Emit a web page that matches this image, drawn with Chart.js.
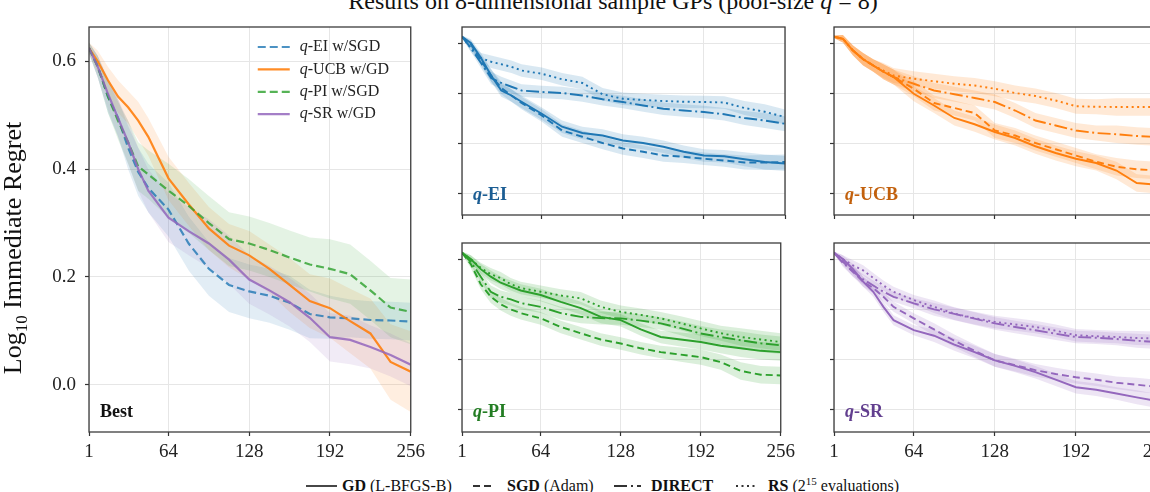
<!DOCTYPE html>
<html>
<head>
<meta charset="utf-8">
<script src="https://cdn.jsdelivr.net/npm/chart.js@4.4.0/dist/chart.umd.min.js"></script>
<style>
  html, body { margin: 0; padding: 0; width: 1150px; height: 492px; overflow: hidden; background: #fff; }
  body { position: relative; font-family: 'Liberation Serif', serif; color: #111; }
  canvas { position: absolute; }
  .t { position: absolute; white-space: nowrap; }
  .leg { position: absolute; white-space: nowrap; font-size: 16px; line-height: 16px; top: 478px; }
  .leg b { font-weight: bold; }
  .leg .sup { font-size: 11px; position: relative; top: -6px; vertical-align: baseline; }
  svg { position: absolute; }
</style>
</head>
<body>
<div class="t" style="left:613px; top:-11px; transform:translateX(-50%); font-size:24px; line-height:24px;">Results on 8-dimensional sample GPs (pool-size <i>q</i> = 8)</div>

<canvas id="best" width="430" height="470" style="left:0; top:0"></canvas>
<canvas id="ei" width="360" height="225" style="left:440px; top:0"></canvas>
<canvas id="ucb" width="370" height="225" style="left:812px; top:0"></canvas>
<canvas id="pi" width="360" height="240" style="left:440px; top:230px"></canvas>
<canvas id="sr" width="370" height="240" style="left:812px; top:230px"></canvas>

<!-- shared legend along the bottom edge -->
<svg width="31" height="10" style="left:306px; top:481px"><line x1="0" y1="5" x2="31" y2="5" stroke="#333" stroke-width="1.8"/></svg>
<span class="leg" style="left:342px"><b>GD</b> (L-BFGS-B)</span>
<svg width="22" height="10" style="left:473px; top:481px"><line x1="0" y1="5" x2="22" y2="5" stroke="#333" stroke-width="1.8" stroke-dasharray="7 4"/></svg>
<span class="leg" style="left:507px"><b>SGD</b> (Adam)</span>
<svg width="27" height="10" style="left:614px; top:481px"><line x1="0" y1="5" x2="27" y2="5" stroke="#333" stroke-width="1.8" stroke-dasharray="13 4 2 4"/></svg>
<span class="leg" style="left:651px"><b>DIRECT</b></span>
<svg width="22" height="10" style="left:736px; top:481px"><line x1="0" y1="5" x2="22" y2="5" stroke="#333" stroke-width="1.8" stroke-dasharray="2 3.5"/></svg>
<span class="leg" style="left:768px"><b>RS</b> (2<span class="sup">15</span> evaluations)</span>

<script>
Chart.defaults.font.family = "'Liberation Serif', serif";
Chart.defaults.color = "#222";

const steps = [1, 8, 16, 24, 32, 40, 48, 64, 80, 96, 112, 128, 144, 160, 176, 192, 208, 224, 240, 256];
const xTicks = [1, 64, 128, 192, 256];
const yTicks = [0.0, 0.2, 0.4, 0.6];

// "Best" panel: best optimizer per acquisition function
const bestLabels = ["q-EI w/SGD", "q-UCB w/GD", "q-PI w/SGD", "q-SR w/GD"];
const bestEI  = [0.625, 0.59, 0.535, 0.495, 0.44, 0.395, 0.365, 0.325, 0.262, 0.215, 0.185, 0.173, 0.165, 0.152, 0.131, 0.125, 0.123, 0.12, 0.119, 0.117];
const bestUCB = [0.625, 0.60, 0.565, 0.535, 0.515, 0.49, 0.46, 0.383, 0.335, 0.29, 0.258, 0.24, 0.215, 0.185, 0.155, 0.142, 0.118, 0.095, 0.042, 0.024];
const bestPI  = [0.625, 0.59, 0.535, 0.49, 0.45, 0.405, 0.39, 0.36, 0.332, 0.30, 0.27, 0.262, 0.25, 0.236, 0.223, 0.215, 0.205, 0.175, 0.143, 0.135];
const bestSR  = [0.625, 0.59, 0.54, 0.495, 0.45, 0.40, 0.36, 0.31, 0.285, 0.262, 0.232, 0.195, 0.175, 0.153, 0.124, 0.088, 0.083, 0.07, 0.055, 0.037];
// half-widths of the shaded bands
const bestEIBand  = [0.01, 0.02, 0.03, 0.035, 0.04, 0.045, 0.045, 0.05, 0.05, 0.05, 0.05, 0.05, 0.05, 0.05, 0.045, 0.04, 0.035, 0.035, 0.035, 0.035];
const bestUCBBand = [0.01, 0.02, 0.025, 0.03, 0.03, 0.035, 0.035, 0.04, 0.04, 0.04, 0.04, 0.045, 0.045, 0.05, 0.05, 0.055, 0.06, 0.065, 0.07, 0.075];
const bestPIBand  = [0.01, 0.02, 0.03, 0.035, 0.04, 0.045, 0.045, 0.05, 0.05, 0.05, 0.05, 0.05, 0.05, 0.05, 0.05, 0.055, 0.055, 0.055, 0.055, 0.06];
const bestSRBand  = [0.01, 0.02, 0.03, 0.035, 0.04, 0.04, 0.04, 0.045, 0.045, 0.045, 0.045, 0.045, 0.045, 0.045, 0.045, 0.045, 0.045, 0.04, 0.04, 0.04];

// q-EI
const eiGD     = [0.625, 0.60, 0.54, 0.47, 0.41, 0.39, 0.365, 0.317, 0.265, 0.24, 0.23, 0.21, 0.20, 0.185, 0.165, 0.15, 0.147, 0.135, 0.124, 0.118];
const eiSGD    = [0.625, 0.595, 0.53, 0.47, 0.42, 0.39, 0.36, 0.31, 0.25, 0.225, 0.20, 0.178, 0.165, 0.15, 0.145, 0.137, 0.13, 0.122, 0.122, 0.124];
const eiDIRECT = [0.625, 0.58, 0.52, 0.46, 0.44, 0.425, 0.41, 0.404, 0.40, 0.39, 0.375, 0.364, 0.35, 0.337, 0.33, 0.324, 0.315, 0.30, 0.29, 0.277];
const eiRS     = [0.625, 0.58, 0.54, 0.525, 0.515, 0.505, 0.49, 0.477, 0.455, 0.44, 0.395, 0.377, 0.372, 0.368, 0.365, 0.364, 0.362, 0.34, 0.325, 0.304];
const eiBand   = [0.005, 0.015, 0.02, 0.025, 0.025, 0.025, 0.025, 0.025, 0.025, 0.025, 0.025, 0.025, 0.025, 0.025, 0.025, 0.025, 0.025, 0.028, 0.03, 0.03];

// q-UCB
const ucbGD     = [0.625, 0.617, 0.57, 0.535, 0.51, 0.485, 0.464, 0.397, 0.35, 0.30, 0.275, 0.244, 0.22, 0.187, 0.16, 0.137, 0.12, 0.09, 0.04, 0.033];
const ucbSGD    = [0.625, 0.617, 0.57, 0.535, 0.51, 0.485, 0.464, 0.417, 0.36, 0.34, 0.32, 0.25, 0.23, 0.20, 0.175, 0.15, 0.125, 0.105, 0.095, 0.09];
const ucbDIRECT = [0.625, 0.617, 0.57, 0.535, 0.51, 0.485, 0.464, 0.437, 0.41, 0.395, 0.38, 0.364, 0.33, 0.29, 0.27, 0.25, 0.24, 0.235, 0.228, 0.224];
const ucbRS     = [0.625, 0.617, 0.57, 0.535, 0.51, 0.49, 0.47, 0.457, 0.447, 0.437, 0.43, 0.417, 0.40, 0.388, 0.37, 0.347, 0.345, 0.344, 0.344, 0.344];
const ucbBand   = [0.005, 0.015, 0.02, 0.025, 0.025, 0.03, 0.03, 0.03, 0.03, 0.03, 0.03, 0.03, 0.03, 0.03, 0.03, 0.03, 0.03, 0.035, 0.035, 0.035];

// q-PI
const piGD     = [0.625, 0.60, 0.56, 0.53, 0.506, 0.49, 0.475, 0.457, 0.43, 0.405, 0.37, 0.357, 0.32, 0.29, 0.28, 0.27, 0.255, 0.245, 0.235, 0.23];
const piSGD    = [0.625, 0.58, 0.50, 0.45, 0.42, 0.40, 0.385, 0.364, 0.33, 0.305, 0.28, 0.264, 0.245, 0.23, 0.22, 0.21, 0.19, 0.155, 0.14, 0.137];
const piDIRECT = [0.625, 0.59, 0.53, 0.47, 0.45, 0.44, 0.425, 0.41, 0.385, 0.37, 0.365, 0.364, 0.355, 0.344, 0.325, 0.304, 0.29, 0.277, 0.265, 0.257];
const piRS     = [0.625, 0.60, 0.565, 0.54, 0.524, 0.50, 0.485, 0.47, 0.455, 0.444, 0.41, 0.39, 0.378, 0.364, 0.345, 0.324, 0.305, 0.29, 0.28, 0.27];
const piBand   = [0.005, 0.015, 0.02, 0.025, 0.025, 0.025, 0.025, 0.025, 0.025, 0.025, 0.025, 0.025, 0.025, 0.025, 0.028, 0.03, 0.03, 0.035, 0.035, 0.035];

// q-SR
const srGD     = [0.625, 0.60, 0.56, 0.51, 0.47, 0.41, 0.357, 0.317, 0.295, 0.26, 0.23, 0.197, 0.175, 0.15, 0.12, 0.09, 0.08, 0.065, 0.05, 0.035];
const srSGD    = [0.625, 0.59, 0.55, 0.51, 0.485, 0.45, 0.41, 0.364, 0.32, 0.275, 0.235, 0.197, 0.178, 0.158, 0.143, 0.13, 0.12, 0.108, 0.10, 0.092];
const srDIRECT = [0.625, 0.585, 0.55, 0.52, 0.495, 0.47, 0.45, 0.424, 0.40, 0.382, 0.363, 0.344, 0.33, 0.317, 0.303, 0.29, 0.287, 0.282, 0.275, 0.27];
const srRS     = [0.625, 0.60, 0.575, 0.555, 0.525, 0.495, 0.47, 0.437, 0.41, 0.383, 0.365, 0.35, 0.34, 0.33, 0.315, 0.297, 0.293, 0.29, 0.286, 0.284];
const srBand   = [0.005, 0.015, 0.02, 0.02, 0.02, 0.02, 0.02, 0.02, 0.025, 0.025, 0.025, 0.025, 0.025, 0.025, 0.025, 0.025, 0.025, 0.025, 0.028, 0.028];

const rgb = { ei: [31, 119, 180], ucb: [255, 127, 14], pi: [44, 160, 44], sr: [148, 103, 189] };
const tagColor = { ei: "#1b5d93", ucb: "#c2600c", pi: "#237d23", sr: "#623f8f" };
const dashes = { solid: [], dashed: [7, 4], dashdot: [13, 3.5, 2, 3.5], dotted: [2, 3.5] };

const col = (c, a) => `rgba(${c[0]},${c[1]},${c[2]},${a})`;
const pts = (vals) => vals.map((v, i) => ({ x: steps[i], y: v }));

// frame, panel tag, inner legend, y title
const decor = {
  id: "decor",
  afterDatasetsDraw(chart, args, o) {
    const ctx = chart.ctx, a = chart.chartArea;
    ctx.save();
    ctx.strokeStyle = "#3c3c3c";
    ctx.lineWidth = 1.3;
    ctx.strokeRect(a.left, a.top, a.right - a.left, a.bottom - a.top);

    if (o.tag) {
      let x = a.left + 11;
      const y = a.bottom - 15;
      ctx.fillStyle = o.tagColor;
      ctx.textBaseline = "alphabetic";
      for (const [txt, italic] of o.tag) {
        ctx.font = (italic ? "italic " : "") + "bold 18px 'Liberation Serif'";
        ctx.fillText(txt, x, y);
        x += ctx.measureText(txt).width;
      }
    }

    if (o.legend) {
      o.legend.forEach((e, i) => {
        const y = a.top + 20 + i * 22.4;
        ctx.strokeStyle = e.color;
        ctx.lineWidth = 2.2;
        ctx.setLineDash(e.dash);
        ctx.beginPath();
        ctx.moveTo(a.right - 153, y);
        ctx.lineTo(a.right - 121, y);
        ctx.stroke();
        ctx.setLineDash([]);
        ctx.fillStyle = "#222";
        ctx.textBaseline = "middle";
        let x = a.right - 111;
        ctx.font = "italic 16px 'Liberation Serif'";
        ctx.fillText(e.label[0], x, y);
        x += ctx.measureText(e.label[0]).width;
        ctx.font = "16px 'Liberation Serif'";
        ctx.fillText(e.label.slice(1), x, y);
      });
    }

    if (o.yTitle) {
      ctx.translate(21, 248);
      ctx.rotate(-Math.PI / 2);
      ctx.fillStyle = "#111";
      ctx.textBaseline = "alphabetic";
      const parts = [["Log", 26, 0], ["10", 17, 6], [" Immediate Regret", 26, 0]];
      let total = 0;
      for (const [t, s] of parts) { ctx.font = s + "px 'Liberation Serif'"; total += ctx.measureText(t).width; }
      let x = -total / 2;
      for (const [t, s, dy] of parts) {
        ctx.font = s + "px 'Liberation Serif'";
        ctx.fillText(t, x, dy);
        x += ctx.measureText(t).width;
      }
    }
    ctx.restore();
  }
};

function panel(id, series, o) {
  const lines = [], bands = [];
  series.forEach(s => {
    lines.push({
      data: pts(s.values), borderColor: col(s.color, s.lineAlpha), borderWidth: s.width,
      borderDash: s.dash, pointRadius: 0, fill: false, tension: 0
    });
    bands.push({ data: pts(s.values.map((v, i) => v - s.band[i])), borderWidth: 0, pointRadius: 0, fill: false });
    bands.push({
      data: pts(s.values.map((v, i) => v + s.band[i])), borderWidth: 0, pointRadius: 0,
      fill: "-1", backgroundColor: col(s.color, s.bandAlpha)
    });
  });

  const grid = { color: "#e6e6e6", lineWidth: 1, tickColor: "#333", tickLength: 4, tickWidth: 1.2, drawTicks: true };
  return new Chart(document.getElementById(id), {
    type: "line",
    data: { datasets: lines.concat(bands) },
    plugins: [decor],
    options: {
      responsive: false,
      animation: false,
      events: [],
      layout: { padding: { top: o.pt, right: o.pr, left: 0, bottom: 0 } },
      plugins: {
        legend: { display: false },
        tooltip: { enabled: false },
        decor: o.decor
      },
      scales: {
        x: {
          type: "linear", min: 1, max: 256,
          afterBuildTicks: s => { s.ticks = xTicks.map(v => ({ value: v })); },
          afterFit: s => { s.height = o.xh; },
          ticks: { display: o.xLabels, autoSkip: false, maxRotation: 0, padding: 5, font: { size: 19 }, callback: v => String(v) },
          grid: grid,
          border: { display: false }
        },
        y: {
          type: "linear", min: -0.088, max: 0.664,
          afterBuildTicks: s => { s.ticks = yTicks.map(v => ({ value: v })); },
          afterFit: s => { s.width = o.yw; },
          ticks: { display: o.yLabels, padding: 9, font: { size: 19 }, callback: v => v.toFixed(1) },
          grid: grid,
          border: { display: false }
        }
      }
    }
  });
}

function methodSeries(key, gd, sgd, direct, rs, band) {
  const base = { color: rgb[key], band: band, width: 1.9, lineAlpha: 1, bandAlpha: 0.17 };
  return [
    Object.assign({}, base, { values: rs, dash: dashes.dotted }),
    Object.assign({}, base, { values: direct, dash: dashes.dashdot }),
    Object.assign({}, base, { values: sgd, dash: dashes.dashed }),
    Object.assign({}, base, { values: gd, dash: dashes.solid })
  ];
}

const bestSeries = [
  { values: bestEI, band: bestEIBand, color: rgb.ei, dash: [8, 4], width: 2.2, lineAlpha: 0.8, bandAlpha: 0.13 },
  { values: bestUCB, band: bestUCBBand, color: rgb.ucb, dash: [], width: 2.2, lineAlpha: 0.9, bandAlpha: 0.13 },
  { values: bestPI, band: bestPIBand, color: rgb.pi, dash: [8, 4], width: 2.2, lineAlpha: 0.8, bandAlpha: 0.13 },
  { values: bestSR, band: bestSRBand, color: rgb.sr, dash: [], width: 2.2, lineAlpha: 0.85, bandAlpha: 0.13 }
];

panel("best", bestSeries.slice().reverse(), {
  pt: 27, pr: 17, xh: 38, yw: 89, xLabels: true, yLabels: true,
  decor: {
    tag: [["Best", false]], tagColor: "#111", yTitle: true,
    legend: bestSeries.map((s, i) => ({ label: bestLabels[i], color: col(s.color, s.lineAlpha), dash: s.dash }))
  }
});

panel("ei", methodSeries("ei", eiGD, eiSGD, eiDIRECT, eiRS, eiBand), {
  pt: 27, pr: 15, xh: 10, yw: 22, xLabels: false, yLabels: false,
  decor: { tag: [["q", true], ["-EI", false]], tagColor: tagColor.ei }
});
panel("ucb", methodSeries("ucb", ucbGD, ucbSGD, ucbDIRECT, ucbRS, ucbBand), {
  pt: 27, pr: 25, xh: 10, yw: 22, xLabels: false, yLabels: false,
  decor: { tag: [["q", true], ["-UCB", false]], tagColor: tagColor.ucb }
});
panel("pi", methodSeries("pi", piGD, piSGD, piDIRECT, piRS, piBand), {
  pt: 13, pr: 15, xh: 38, yw: 22, xLabels: true, yLabels: false,
  decor: { tag: [["q", true], ["-PI", false]], tagColor: tagColor.pi }
});
panel("sr", methodSeries("sr", srGD, srSGD, srDIRECT, srRS, srBand), {
  pt: 13, pr: 25, xh: 38, yw: 22, xLabels: true, yLabels: false,
  decor: { tag: [["q", true], ["-SR", false]], tagColor: tagColor.sr }
});
</script>
</body>
</html>
